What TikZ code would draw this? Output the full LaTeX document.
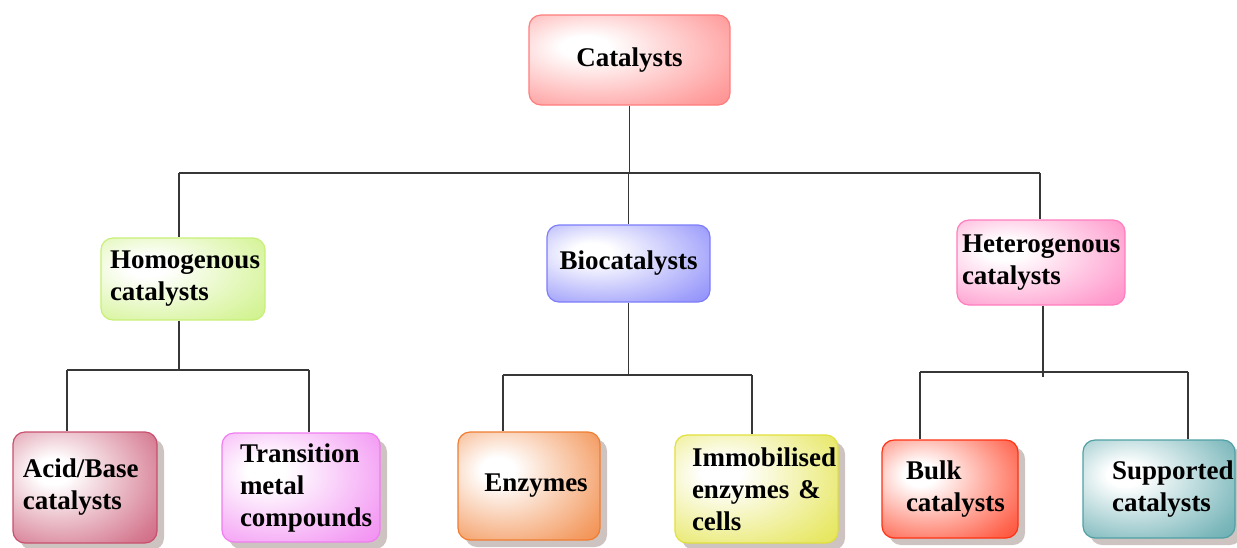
\documentclass[tikz,border=0pt]{standalone}
\usepackage{fontspec}
\setmainfont{Liberation Serif}
\usetikzlibrary{shadows}
\hyphenpenalty=10000
\exhyphenpenalty=10000
\colorlet{boxcol}{red}
\pgfdeclareradialshading[boxcol]{glossy}{\pgfpoint{-12bp}{8bp}}{color(0bp)=(white); color(6bp)=(white); color(22bp)=(boxcol!40!white); color(36bp)=(boxcol!75!white); color(50bp)=(boxcol); color(80bp)=(boxcol!88!black)}
\definecolor{cCat}{RGB}{255,125,125}
\definecolor{cHom}{RGB}{200,240,120}
\definecolor{cBio}{RGB}{125,125,250}
\definecolor{cHet}{RGB}{255,125,190}
\definecolor{cAcid}{RGB}{200,80,110}
\definecolor{cTrans}{RGB}{240,125,240}
\definecolor{cEnz}{RGB}{240,125,50}
\definecolor{cImm}{RGB}{225,225,60}
\definecolor{cBulk}{RGB}{255,50,20}
\definecolor{cSup}{RGB}{80,160,165}
\definecolor{cShadow}{RGB}{200,188,185}
\definecolor{cLine}{RGB}{55,55,55}
\tikzset{
  gbox/.style={/utils/exec={\colorlet{boxcol}{#1}}, shading=glossy, draw=#1,
    line width=1.2pt, rounded corners=12pt, align=left, inner ysep=0pt,
    font=\bfseries\fontsize{27}{32}\selectfont},
  shad/.style={drop shadow={shadow xshift=7pt, shadow yshift=-7pt, fill=cShadow, opacity=0.9}},
  link/.style={draw=cLine, line width=1.4pt}
}
\begin{document}
\begin{tikzpicture}[x=1pt,y=-1pt]
\useasboundingbox (0,0) rectangle (1237,547);
% top
\node[gbox=cCat, minimum width=201pt, minimum height=90pt, align=center] (cat) at (629.5,60) {Catalysts};
% middle
\node[gbox=cHom, minimum width=164pt, minimum height=82pt, inner xsep=9pt, text width=146pt] (hom) at (183,279) {Homogenous\\catalysts};
\node[gbox=cBio, minimum width=163pt, minimum height=77pt, align=center] (bio) at (628.5,263.5) {Biocatalysts};
\node[gbox=cHet, minimum width=168pt, minimum height=85pt, inner xsep=5pt, text width=158pt] (het) at (1041,262.5) {Heterogenous\\catalysts};
% bottom
\node[gbox=cAcid, shad, minimum width=144pt, minimum height=111pt, inner xsep=10pt, text width=124pt] (acid) at (85,487.5) {Acid/Base\\catalysts};
\node[gbox=cTrans, shad, minimum width=158pt, minimum height=109pt, inner xsep=18pt, text width=122pt] (trans) at (301,487.5) {Transition\\metal\\compounds};
\node[gbox=cEnz, shad, minimum width=142pt, minimum height=108pt, align=center] (enz) at (529,486) {\hspace*{14pt}Enzymes};
\node[gbox=cImm, shad, minimum width=163pt, minimum height=108pt, inner xsep=17pt, text width=129pt] (imm) at (756.5,489) {Immobilised\\enzymes \&\\cells};
\node[gbox=cBulk, shad, minimum width=136pt, minimum height=98pt, inner xsep=24pt, text width=88pt] (bulk) at (950,489) {Bulk\\catalysts};
\node[gbox=cSup, shad, minimum width=152pt, minimum height=98pt, inner xsep=29pt, text width=94pt] (sup) at (1159,489) {Supported\\catalysts};
% bus coordinates
\coordinate (b0L) at (179,173);
\coordinate (b0R) at (1040,173);
\coordinate (b1L) at (67,370);
\coordinate (b1R) at (309,370);
\coordinate (b2L) at (503,375);
\coordinate (b2R) at (752,375);
\coordinate (b3L) at (920,372);
\coordinate (b3R) at (1188,372);
% level 1
\draw[link] (cat.south) -- (cat.south |- b0L);
\draw[link] (b0L) -- (b0R);
\draw[link] (b0L) -- (b0L |- hom.north);
\draw[link] (bio.north) -- (bio.north |- b0L);
\draw[link] (b0R) -- (b0R |- het.north);
% homogenous
\draw[link] (hom.south -| b0L) -- (b0L |- b1L);
\draw[link] (b1L) -- (b1R);
\draw[link] (b1L) -- (b1L |- acid.north);
\draw[link] (b1R) -- (b1R |- trans.north);
% bio
\draw[link] (bio.south) -- (bio.south |- b2L);
\draw[link] (b2L) -- (b2R);
\draw[link] (b2L) -- (b2L |- enz.north);
\draw[link] (b2R) -- (b2R |- imm.north);
% hetero
\draw[link] ([xshift=2pt]het.south) -- ([xshift=2pt,yshift=-5pt]het.south |- b3L);
\draw[link] (b3L) -- (b3R);
\draw[link] (b3L) -- (b3L |- bulk.north);
\draw[link] (b3R) -- (b3R |- sup.north);
\end{tikzpicture}
\end{document}
